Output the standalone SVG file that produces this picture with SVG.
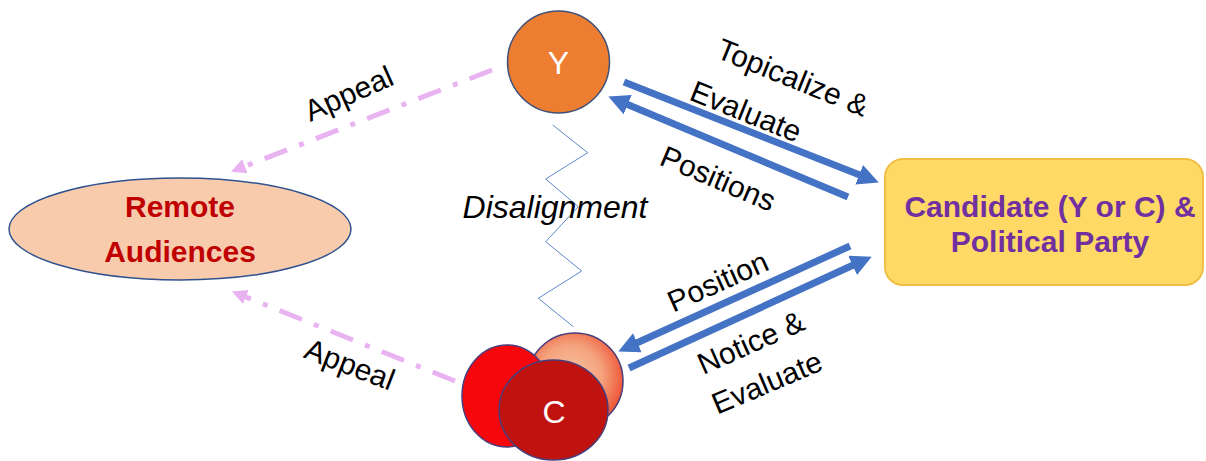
<svg xmlns="http://www.w3.org/2000/svg" width="1206" height="461" viewBox="0 0 1206 461">
<style>
.lbl{font-family:"Liberation Sans",Arial,sans-serif;font-size:30px;fill:#000;text-anchor:middle}
.blue{stroke:#4472C4;stroke-width:7;fill:none;marker-end:url(#bh)}
.pink{stroke:#E9B3F2;stroke-width:5;fill:none;stroke-dasharray:24 13 5 13;marker-end:url(#ph)}
.node{font-family:"Liberation Sans",Arial,sans-serif;font-size:30px;text-anchor:middle}
</style>
<defs>
<marker id="bh" markerUnits="strokeWidth" markerWidth="3" markerHeight="3" refX="0.2" refY="1.5" orient="auto">
<path d="M0,0 L3,1.5 L0,3 z" fill="#4472C4"/>
</marker>
<marker id="ph" markerUnits="strokeWidth" markerWidth="3" markerHeight="3" refX="0.2" refY="1.5" orient="auto">
<path d="M0,0 L3,1.5 L0,3 z" fill="#E9B3F2"/>
</marker>
<radialGradient id="peach" cx="0.45" cy="0.45" r="0.55">
<stop offset="0" stop-color="#F8C6A4"/>
<stop offset="0.6" stop-color="#F4A27C"/>
<stop offset="1" stop-color="#EE5A3C"/>
</radialGradient>
</defs>
<g id="connectors">
<line class="blue" x1="624" y1="82" x2="860.5" y2="175.3"/>
<line class="blue" x1="848" y1="197" x2="626.4" y2="104.1"/>
<line class="blue" x1="850" y1="246" x2="636.1" y2="343.3"/>
<line class="blue" x1="629" y1="368" x2="853.9" y2="264.8"/>
<line class="pink" x1="492" y1="70" x2="244" y2="166.6"/>
<line class="pink" x1="455" y1="381" x2="244.9" y2="296.6"/>
<polyline points="552.7,125 587.7,152.7 545.7,179 578.3,206.7 545.7,241.7 581.7,271 538.3,298.3 573.3,326.7" fill="none" stroke="#4472C4" stroke-width="1" stroke-opacity="0.85"/>
<text class="lbl" transform="translate(789,87) rotate(22)">Topicalize &amp;</text>
<text class="lbl" transform="translate(742,121) rotate(22)">Evaluate</text>
<text class="lbl" transform="translate(714,188) rotate(23)">Positions</text>
<text class="lbl" transform="translate(722,291) rotate(-24)">Position</text>
<text class="lbl" transform="translate(755,352) rotate(-24)">Notice &amp;</text>
<text class="lbl" transform="translate(771,392) rotate(-23)">Evaluate</text>
<text class="lbl" transform="translate(353,103) rotate(-24)">Appeal</text>
<text class="lbl" transform="translate(346,374) rotate(21)">Appeal</text>
<text class="lbl" x="555" y="218" style="font-style:italic;font-size:32px">Disalignment</text>
</g>
<g id="node-y">
<circle cx="558.5" cy="62" r="51" fill="#ED7D31" stroke="#3E4F78" stroke-width="1.5"/>
<text class="node" x="558.5" y="74" fill="#FFFFFF" style="font-size:32px">Y</text>
</g>
<g id="node-c">
<circle cx="575" cy="381" r="48" fill="url(#peach)" stroke="#4A3D7A" stroke-width="1.5"/>
<ellipse cx="507" cy="396" rx="45" ry="51" fill="#F5070C" stroke="#4A3D7A" stroke-width="1.5"/>
<ellipse cx="553.5" cy="410" rx="54.5" ry="50" fill="#C0120F" stroke="#4A3D7A" stroke-width="1.5"/>
<text class="node" x="554" y="423" fill="#FFFFFF" style="font-size:32px">C</text>
</g>
<g id="node-remote">
<ellipse cx="180" cy="229" rx="171" ry="51" fill="#F8CBAD" stroke="#2F528F" stroke-width="1.5"/>
<text class="node" x="180" y="217" fill="#C00000" font-weight="bold">Remote</text>
<text class="node" x="180" y="262" fill="#C00000" font-weight="bold">Audiences</text>
</g>
<g id="node-candidate">
<rect x="885" y="159" width="318" height="126" rx="18" fill="#FFD966" stroke="#F2BE45" stroke-width="2"/>
<text class="node" x="1050" y="217" fill="#7030A0" font-weight="bold">Candidate (Y or C) &amp;</text>
<text class="node" x="1050" y="252" fill="#7030A0" font-weight="bold">Political Party</text>
</g>
</svg>
